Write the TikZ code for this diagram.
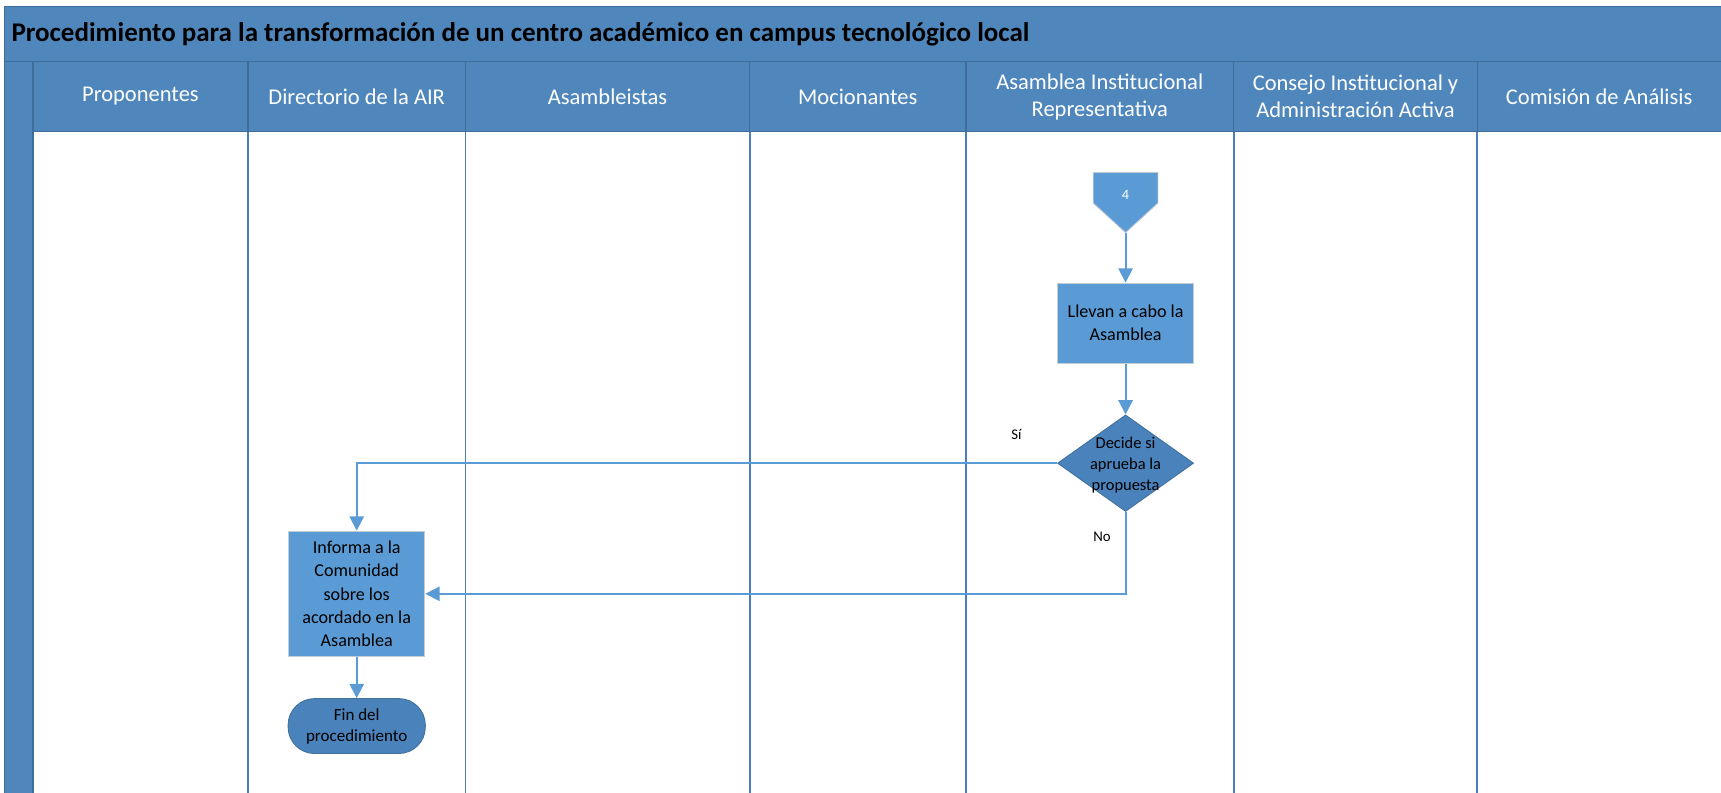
\documentclass[tikz,border=0pt]{standalone}
\usepackage{fontspec}
\setmainfont{Carlito}
\usetikzlibrary{shapes.geometric,arrows.meta}
\definecolor{hdr}{HTML}{4F87BD}
\definecolor{hdrline}{HTML}{3E6D9C}
\definecolor{laneline}{HTML}{4A7EBB}
\definecolor{boxfill}{HTML}{5B9BD5}
\definecolor{darkfill}{HTML}{4A82BC}
\definecolor{darkedge}{HTML}{41719C}
\definecolor{conn}{HTML}{5B9BD5}
\definecolor{boxedge}{HTML}{C4CCD4}
\tikzset{
  lanehdr/.style={text=white, align=center, font=\fontsize{20.5}{24.5}\selectfont},
  procbox/.style={draw=boxedge, line width=1, fill=boxfill, minimum width=124, align=center, inner sep=0, font=\fontsize{16.5}{21}\selectfont},
  decision/.style={diamond, draw=darkedge, line width=0.8, fill=darkfill, minimum width=124, minimum height=88, inner sep=0},
  termbox/.style={draw=darkedge, line width=0.8, fill=darkfill, rounded corners=24, minimum width=125, minimum height=50, align=center, inner sep=0, font=\fontsize{15.5}{19}\selectfont},
  flow/.style={draw=conn, line width=1.8, -{Triangle[length=13,width=13]}},
  lbl/.style={font=\fontsize{13.5}{16}\selectfont},
}
\begin{document}
\begin{tikzpicture}[x=1pt,y=-1pt]
\useasboundingbox (0,0) rectangle (1568,722.5);
% title bar, header row and left strip
\fill[hdr] (4,6) rectangle (1568,56);
\fill[hdr] (30,56) rectangle (1568,120);
\fill[hdr] (4,56) rectangle (30,722.5);
\draw[hdrline, line width=1] (1568,6) -- (4,6) -- (4,722.5);
\draw[hdrline, line width=1.2] (4,56) -- (1568,56);
\draw[hdrline, line width=1.2] (30,120) -- (1568,120);
\draw[hdrline, line width=1.2] (30,56) -- (30,722.5);
% lane separators
\foreach \x in {226,424,683,880,1124,1346}{
  \draw[hdrline, line width=1.2] (\x,56) -- (\x,120);
  \draw[laneline, line width=1.6] (\x,120) -- (\x,722.5);
}
% title
\node[anchor=west, font=\bfseries\fontsize{24.6}{29}\selectfont] (title) at (7,31)
  {Procedimiento para la transformación de un centro académico en campus tecnológico local};
% lane headers
\node[lanehdr] (h1) at (128,88) {Proponentes};
\node[lanehdr] (h2) at (325,88) {Directorio de la AIR};
\node[lanehdr] (h3) at (553.5,88) {Asambleistas};
\node[lanehdr] (h4) at (781.5,88) {Mocionantes};
\node[lanehdr] (h5) at (1002,88) {Asamblea Institucional\\Representativa};
\node[lanehdr] (h6) at (1235,88) {Consejo Institucional y\\Administración Activa};
\node[lanehdr] (h7) at (1457,88) {Comisión de Análisis};
% off-page connector 4
\filldraw[fill=boxfill, draw=boxedge, line width=0.8] (996,157) -- (1055,157) -- (1055,185) -- (1025.5,212) -- (996,185) -- cycle;
\node[text=white, font=\fontsize{13}{15}\selectfont] (c4) at (1025.5,178) {4};
\coordinate (c4tip) at (1025.5,212);
% process boxes
\node[procbox, minimum height=73] (b1) at (1025.5,294.5) {Llevan a cabo la\\Asamblea};
\node[decision] (d1) at (1025.5,422) {};
\node[font=\fontsize{15}{19}\selectfont, align=center] (d1t) at (1025.5,424) {Decide si\\aprueba la\\propuesta};
\node[procbox, minimum width=124, minimum height=114] (b2) at (325,541) {Informa a la\\Comunidad\\sobre los\\acordado en la\\Asamblea};
\node[termbox] (t1) at (325,661.5) {Fin del\\procedimiento};
% connectors
\draw[flow] (c4tip) -- (b1.north);
\draw[flow] (b1.south) -- (d1.north);
\draw[flow] (d1.west) -| (b2.north);
\draw[flow] (d1.south) |- (b2.east);
\draw[flow] (b2.south) -- (t1.north);
% labels
\node[lbl] (lsi) at (926,396) {Sí};
\node[lbl] (lno) at (1004,489) {No};
\end{tikzpicture}
\end{document}
